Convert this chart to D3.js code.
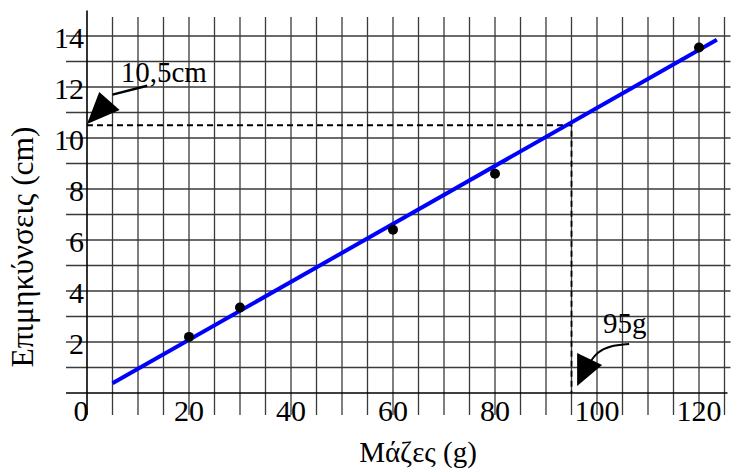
<!DOCTYPE html>
<html>
<head>
<meta charset="utf-8">
<script src="https://cdn.jsdelivr.net/npm/d3@7"></script>
<style>
  body { margin: 0; background: #fff; }
  svg { display: block; font-family: "Liberation Serif", "DejaVu Serif", serif; }
</style>
</head>
<body>
<svg id="chart" width="744" height="472"></svg>
<script>
'use strict';
// measurements: mass (g) -> extension (cm)
let masses = [20, 30, 60, 80, 120];
let lengths = [2.2, 3.35, 6.4, 8.6, 13.55];
// best-fit line drawn on the graph
let fitLine = [[5, 0.38], [123.5, 13.85]];
let xTicks = [0, 20, 40, 60, 80, 100, 120];
let yTicks = [2, 4, 6, 8, 10, 12, 14];
// reading off the graph
let readMass = 95;
let readLength = 10.5;

let svg = d3.select("#chart");

let x = d3.scaleLinear().domain([0, 125]).range([87, 724.5]);
let y = d3.scaleLinear().domain([0, 15]).range([393, 10.5]);

// grid
let grid = svg.append("g").attr("stroke", "#3a3a3a").attr("stroke-width", 1.3);
grid.selectAll("line.v")
    .data(d3.range(5, 126, 5))
    .enter().append("line")
    .attr("x1", d => x(d)).attr("x2", d => x(d))
    .attr("y1", y(14.75)).attr("y2", y(0) + 22);
grid.selectAll("line.h")
    .data(d3.range(1, 15))
    .enter().append("line")
    .attr("x1", x(0) - 21).attr("x2", x(125) + 6)
    .attr("y1", d => y(d)).attr("y2", d => y(d));

// axes
svg.append("line")
    .attr("x1", x(0)).attr("x2", x(0))
    .attr("y1", y(15)).attr("y2", y(0) + 22)
    .attr("stroke", "#000").attr("stroke-width", 1.6);
svg.append("line")
    .attr("x1", x(0) - 21).attr("x2", x(125) + 3)
    .attr("y1", y(0)).attr("y2", y(0))
    .attr("stroke", "#000").attr("stroke-width", 1.6);

// tick labels
svg.selectAll("text.xt")
    .data(xTicks)
    .enter().append("text")
    .attr("x", d => d === 0 ? x(d) - 6 : x(d))
    .attr("y", y(0) + 28)
    .attr("text-anchor", "middle")
    .attr("font-size", 30)
    .text(d => d);
svg.selectAll("text.yt")
    .data(yTicks)
    .enter().append("text")
    .attr("x", x(0) - 3)
    .attr("y", d => y(d) + 12)
    .attr("text-anchor", "end")
    .attr("font-size", 30)
    .text(d => d);

// axis titles
svg.append("text")
    .attr("x", 418).attr("y", 462)
    .attr("text-anchor", "middle")
    .attr("font-size", 29)
    .text("Μάζες (g)");
svg.append("text")
    .attr("transform", "translate(33,247) rotate(-90)")
    .attr("text-anchor", "middle")
    .attr("font-size", 31.5)
    .text("Επιμηκύνσεις (cm)");

// dashed reading lines
svg.append("path")
    .attr("d", d3.line()([[x(0), y(readLength)], [x(readMass), y(readLength)], [x(readMass), y(0)]]))
    .attr("fill", "none")
    .attr("stroke", "#000")
    .attr("stroke-width", 1.8)
    .attr("stroke-dasharray", "6,4");

// fit line
svg.append("path")
    .attr("d", d3.line().x(d => x(d[0])).y(d => y(d[1]))(fitLine))
    .attr("fill", "none")
    .attr("stroke", "#0000ff")
    .attr("stroke-width", 4);

// points
svg.selectAll("circle")
    .data(masses)
    .enter().append("circle")
    .attr("cx", d => x(d))
    .attr("cy", (d, i) => y(lengths[i]))
    .attr("r", 5)
    .attr("fill", "#000");

// annotation: 10,5cm
let pt = d => [x(d[0]), y(d[1])];
svg.append("path")
    .attr("d", d3.line()([[11.8, 12.05], [5, 11.7]].map(pt)))
    .attr("fill", "none").attr("stroke", "#000").attr("stroke-width", 2.5);
svg.append("path")
    .attr("d", d3.line()([[0, 10.55], [2.4, 11.8], [6.4, 11.1]].map(pt)) + "Z")
    .attr("fill", "#000");
svg.append("text")
    .attr("x", x(6.6)).attr("y", y(12.2))
    .attr("font-size", 29)
    .text("10,5cm");

// annotation: 95g
svg.append("path")
    .attr("d", d3.line().curve(d3.curveBasis)([[106.3, 1.92], [102.5, 1.85], [100, 1.6], [98.6, 1.2]].map(pt)))
    .attr("fill", "none").attr("stroke", "#000").attr("stroke-width", 2);
svg.append("path")
    .attr("d", d3.line()([[96.1, 1.57], [96.1, 0.27], [101, 1.1]].map(pt)) + "Z")
    .attr("fill", "#000");
svg.append("text")
    .attr("x", x(101.2)).attr("y", y(2.35))
    .attr("font-size", 29)
    .text("95g");
</script>
</body>
</html>
